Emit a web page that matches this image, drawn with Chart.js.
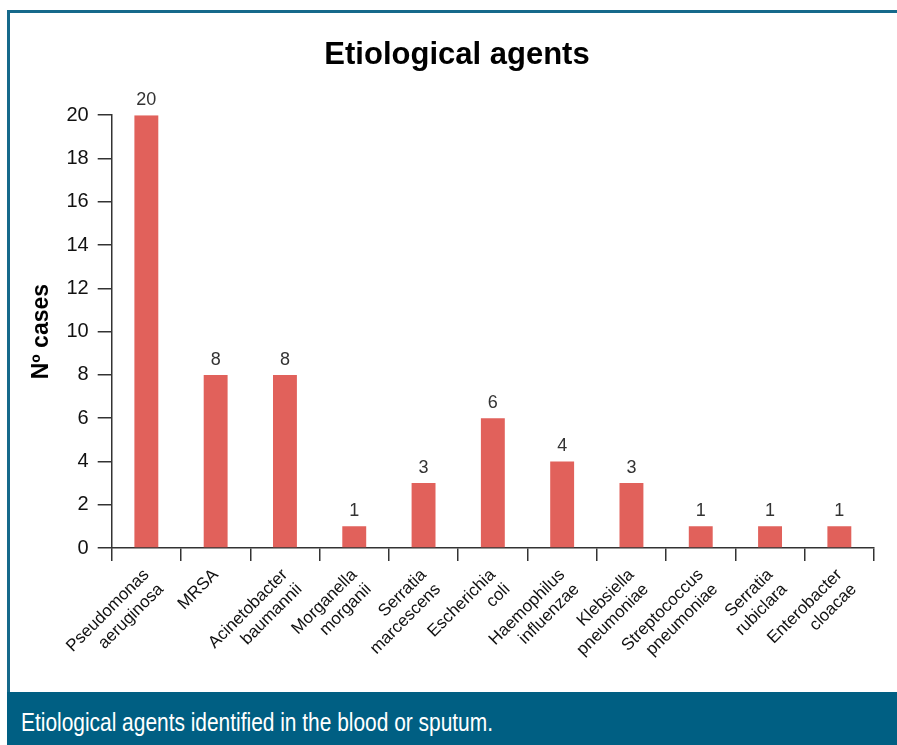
<!DOCTYPE html>
<html>
<head>
<meta charset="utf-8">
<script src="https://cdn.jsdelivr.net/npm/chart.js@4"></script>
<style>
  body { margin: 0; background: #fff; }
  #frame { position: absolute; left: 7px; top: 10px; width: 890px; height: 682px;
           border-left: 3px solid #15698b; border-top: 3px solid #15698b; box-sizing: border-box; }
  #wrap { position: absolute; left: 10px; top: 13px; width: 887px; height: 679px; }
  #caption { position: absolute; left: 7px; top: 692px; width: 890px; height: 53px;
             background: #005f83; }
  #caption span { position: absolute; left: 14px; top: 15px; color: #fff; white-space: nowrap;
                  font-family: 'Liberation Sans', Arial, sans-serif; font-size: 25.5px; line-height: 30px;
                  transform: scaleX(0.82); transform-origin: left center; }
</style>
</head>
<body>
<div id="frame"></div>
<div id="wrap"><canvas id="chart"></canvas></div>
<div id="caption"><span>Etiological agents identified in the blood or sputum.</span></div>
<script>
var sans = "'Liberation Sans', Arial, sans-serif";

// data
var agents = [
  ['Pseudomonas', 'aeruginosa'],
  'MRSA',
  ['Acinetobacter', 'baumannii'],
  ['Morganella', 'morganii'],
  ['Serratia', 'marcescens'],
  ['Escherichia', 'coli'],
  ['Haemophilus', 'influenzae'],
  ['Klebsiella', 'pneumoniae'],
  ['Streptococcus', 'pneumoniae'],
  ['Serratia', 'rubiclara'],
  ['Enterobacter', 'cloacae']
];
var cases = [20, 8, 8, 1, 3, 6, 4, 3, 1, 1, 1];
var yTicks = [0, 2, 4, 6, 8, 10, 12, 14, 16, 18, 20];

// numbers on top of the bars
var valueLabels = {
  id: 'valueLabels',
  afterDatasetsDraw: function(chart) {
    var ctx = chart.ctx;
    var meta = chart.getDatasetMeta(0);
    ctx.save();
    ctx.font = '18px ' + sans;
    ctx.fillStyle = '#333';
    ctx.textAlign = 'center';
    ctx.textBaseline = 'alphabetic';
    meta.data.forEach(function(bar, i) {
      ctx.fillText(String(cases[i]), bar.x, bar.y - 10);
    });
    ctx.restore();
  }
};

new Chart(document.getElementById('chart'), {
  type: 'bar',
  data: {
    labels: agents,
    datasets: [{
      label: 'Nº cases',
      data: cases,
      backgroundColor: '#e1615b',
      barPercentage: 0.345,
      categoryPercentage: 1.0
    }]
  },
  options: {
    responsive: true,
    maintainAspectRatio: false,
    animation: false,
    layout: { padding: { left: 30, right: 23, top: 0, bottom: 0 } },
    plugins: {
      legend: { display: false },
      tooltip: { enabled: false },
      title: {
        display: true,
        text: 'Etiological agents',
        color: '#000',
        font: { family: sans, size: 31, weight: 'bold' },
        padding: { top: 24, bottom: 41 }
      }
    },
    scales: {
      x: {
        offset: true,
        grid: { display: true, drawOnChartArea: false, drawTicks: true, tickLength: 13,
                offset: true, color: '#333', lineWidth: 1.5 },
        border: { display: true, color: '#333', width: 1.5 },
        ticks: { color: '#111', font: { family: sans, size: 17 },
                 minRotation: 45, maxRotation: 45, padding: 4, autoSkip: false },
        afterFit: function(scale) { scale.height = 144; }
      },
      y: {
        min: 0,
        max: 20,
        afterBuildTicks: function(scale) {
          scale.ticks = yTicks.map(function(v) { return { value: v }; });
        },
        grid: { display: true, drawOnChartArea: false, drawTicks: true, tickLength: 14,
                color: '#333', lineWidth: 1.5 },
        border: { display: true, color: '#333', width: 1.5 },
        ticks: { color: '#111', font: { family: sans, size: 20 }, padding: 9 },
        title: {
          display: true,
          text: 'Nº cases',
          color: '#000',
          font: { family: sans, size: 23, weight: 'bold' },
          padding: { top: -12, bottom: 0 }
        },
        afterFit: function(scale) { scale.width = 71.7; }
      }
    }
  },
  plugins: [valueLabels]
});
</script>
</body>
</html>
